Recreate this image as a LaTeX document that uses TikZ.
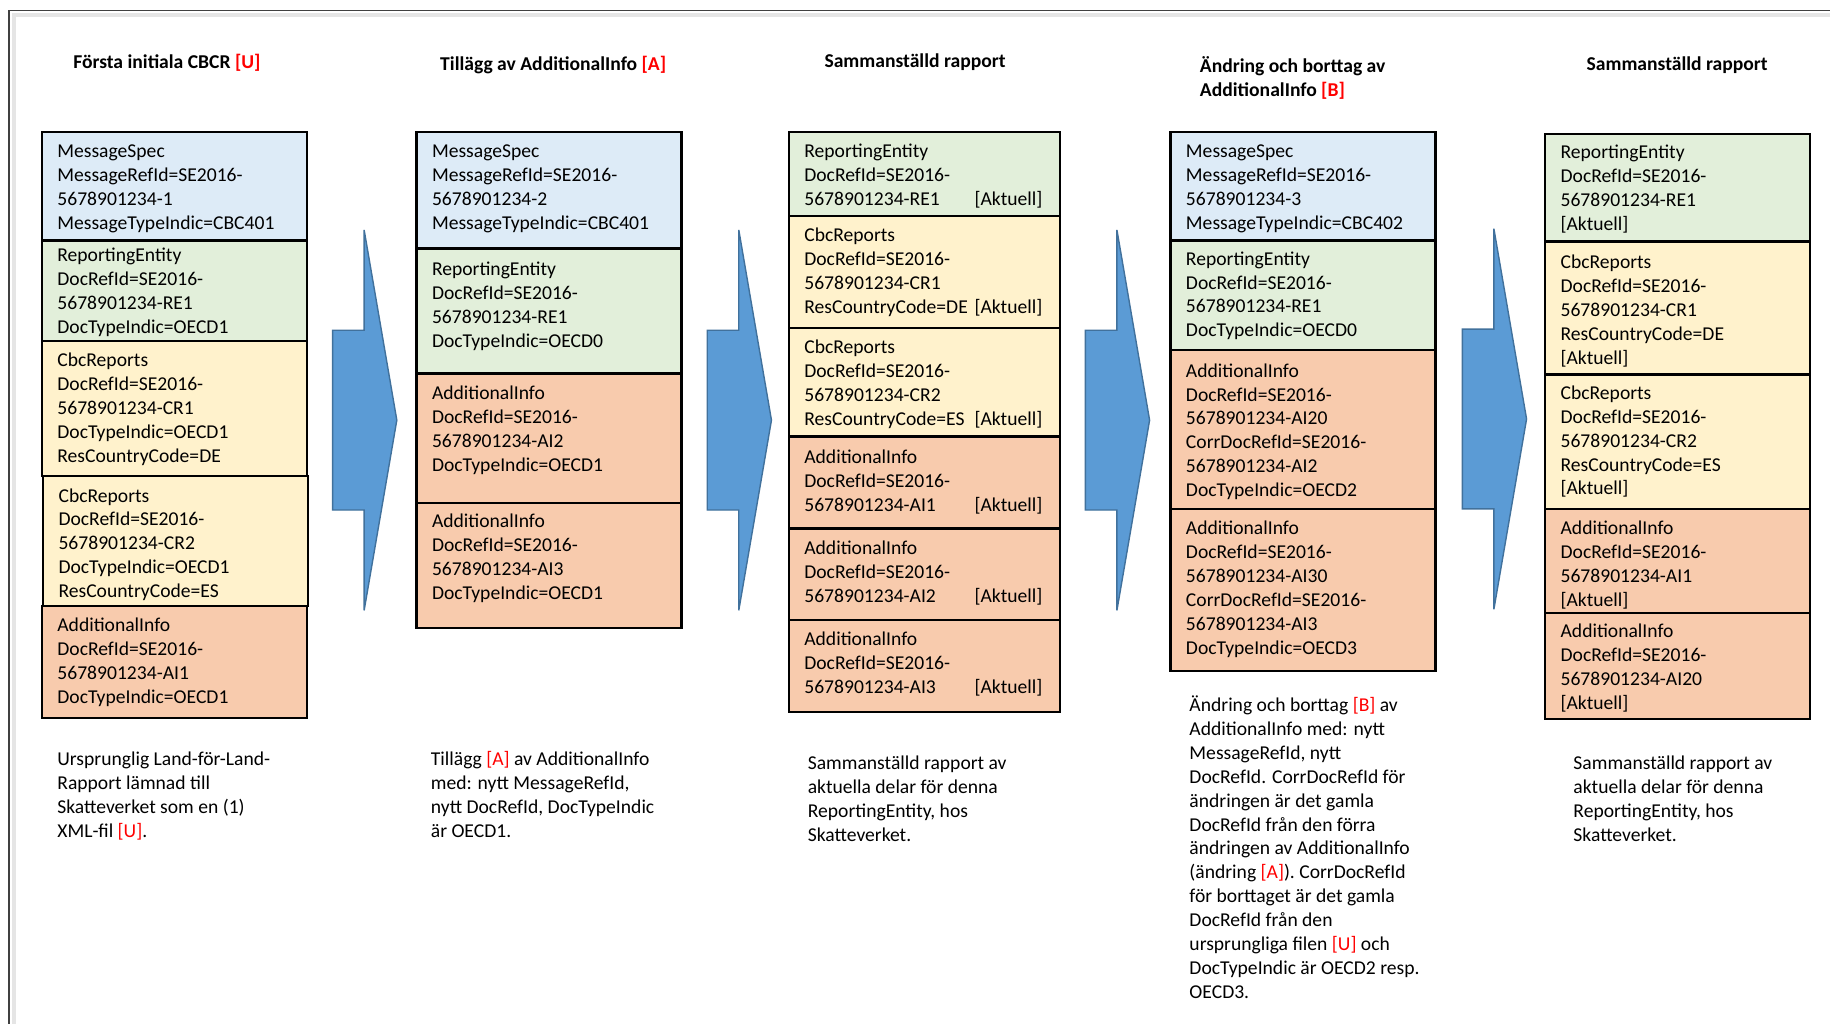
\documentclass[tikz,border=0pt]{standalone}
\usepackage{fontspec}
\setmainfont{Carlito}
\usetikzlibrary{fit}
\definecolor{cms}{HTML}{DDEBF7}
\definecolor{cre}{HTML}{E2EFDA}
\definecolor{ccr}{HTML}{FFF2CC}
\definecolor{cai}{HTML}{F8CBAD}
\definecolor{cred}{HTML}{FF0000}
\definecolor{carrf}{HTML}{5B9BD5}
\definecolor{carrd}{HTML}{41719C}
\newcommand\fl{\rule{0pt}{14pt}}
\newcommand\cbsec[8]{%
  \node[sec, fill=#6, fit={(#2,#3) (#4,#5)}] (#1) {};
  \node[txt] (#1t) at ({#2+13},{#7-12}) {\fl#8};}
\newcommand\akt[1]{\makebox[238pt][l]{#1\hfill[Aktuell]}}
\newcommand\rb[1]{\textcolor{cred}{#1}}
\newcommand\aktl{{[Aktuell]}}
\newcommand\barrow[2]{\filldraw[barr] (#1,{#2-77}) -- ({#1+27},{#2-77}) -- ({#1+27},{#2-163}) -- ({#1+55},#2) -- ({#1+27},{#2+163}) -- ({#1+27},{#2+77}) -- (#1,{#2+77}) -- cycle;}
\begin{document}
\begin{tikzpicture}[x=1.1671pt,y=-1.1671pt,
  sec/.style={draw=black, line width=2.4pt, inner sep=0pt, outer sep=0pt},
  txt/.style={anchor=north west, inner sep=0pt, align=left, font=\fontsize{19.6}{23.9}\selectfont},
  ttl/.style={anchor=base, inner sep=0pt, align=center, font=\fontsize{19.6}{24.5}\selectfont\bfseries},
  barr/.style={fill=carrf, draw=carrd, line width=1.4pt, line join=miter}]
\useasboundingbox (0,0) rectangle (1568,877);
\fill[white] (0,0) rectangle (1568,877);
% frame
\draw[line width=4pt, black!10] (12,877) -- (12,13) -- (1568,13);
\draw[line width=1.8pt, black!75] (8,877) -- (8,9) -- (1568,9);
% titles
\node[ttl] (t1) at (143,59) {Första initiala CBCR \rb{[U]}};
\node[ttl] (t2) at (474,60) {Tillägg av AdditionalInfo \rb{[A]}};
\node[ttl] (t3) at (784,58) {Sammanställd rapport};
\node[ttl, anchor=north west, align=left] (t4) at (1028,48) {\fl Ändring och borttag av\\AdditionalInfo \rb{[B]}};
\node[ttl] (t5) at (1437,60) {Sammanställd rapport};
% column 1
\cbsec{a1}{36}{113}{263}{206}{cms}{135}{MessageSpec\\MessageRefId=SE2016-\\5678901234-1\\MessageTypeIndic=CBC401}
\cbsec{a2}{36}{206}{263}{292}{cre}{224}{ReportingEntity\\DocRefId=SE2016-\\5678901234-RE1\\DocTypeIndic=OECD1}
\cbsec{a3}{36}{292}{263}{408}{ccr}{314}{CbcReports\\DocRefId=SE2016-\\5678901234-CR1\\DocTypeIndic=OECD1\\ResCountryCode=DE}
\cbsec{a4}{37}{408}{264}{519}{ccr}{430}{CbcReports\\DocRefId=SE2016-\\5678901234-CR2\\DocTypeIndic=OECD1\\ResCountryCode=ES}
\cbsec{a5}{36}{519}{263}{615}{cai}{541}{AdditionalInfo\\DocRefId=SE2016-\\5678901234-AI1\\DocTypeIndic=OECD1}
% column 2
\cbsec{b1}{357}{113}{584}{213}{cms}{135}{MessageSpec\\MessageRefId=SE2016-\\5678901234-2\\MessageTypeIndic=CBC401}
\cbsec{b2}{357}{213}{584}{320}{cre}{236}{ReportingEntity\\DocRefId=SE2016-\\5678901234-RE1\\DocTypeIndic=OECD0}
\cbsec{b3}{357}{320}{584}{431}{cai}{342}{AdditionalInfo\\DocRefId=SE2016-\\5678901234-AI2\\DocTypeIndic=OECD1}
\cbsec{b4}{357}{431}{584}{538}{cai}{452}{AdditionalInfo\\DocRefId=SE2016-\\5678901234-AI3\\DocTypeIndic=OECD1}
% column 3
\cbsec{c1}{676}{113}{908}{185}{cre}{135}{ReportingEntity\\DocRefId=SE2016-\\\akt{5678901234-RE1}}
\cbsec{c2}{676}{185}{908}{281}{ccr}{207}{CbcReports\\DocRefId=SE2016-\\5678901234-CR1\\\akt{ResCountryCode=DE}}
\cbsec{c3}{676}{281}{908}{374}{ccr}{303}{CbcReports\\DocRefId=SE2016-\\5678901234-CR2\\\akt{ResCountryCode=ES}}
\cbsec{c4}{676}{374}{908}{453}{cai}{397}{AdditionalInfo\\DocRefId=SE2016-\\\akt{5678901234-AI1}}
\cbsec{c5}{676}{453}{908}{531}{cai}{475}{AdditionalInfo\\DocRefId=SE2016-\\\akt{5678901234-AI2}}
\cbsec{c6}{676}{531}{908}{610}{cai}{553}{AdditionalInfo\\DocRefId=SE2016-\\\akt{5678901234-AI3}}
% column 4
\cbsec{d1}{1003}{113}{1230}{206}{cms}{135}{MessageSpec\\MessageRefId=SE2016-\\5678901234-3\\MessageTypeIndic=CBC402}
\cbsec{d2}{1003}{206}{1230}{300}{cre}{227}{ReportingEntity\\DocRefId=SE2016-\\5678901234-RE1\\DocTypeIndic=OECD0}
\cbsec{d3}{1003}{300}{1230}{436}{cai}{323}{AdditionalInfo\\DocRefId=SE2016-\\5678901234-AI20\\CorrDocRefId=SE2016-\\5678901234-AI2\\DocTypeIndic=OECD2}
\cbsec{d4}{1003}{436}{1230}{575}{cai}{458}{AdditionalInfo\\DocRefId=SE2016-\\5678901234-AI30\\CorrDocRefId=SE2016-\\5678901234-AI3\\DocTypeIndic=OECD3}
% column 5
\cbsec{e1}{1324}{115}{1551}{207}{cre}{136}{ReportingEntity\\DocRefId=SE2016-\\5678901234-RE1\\\aktl}
\cbsec{e2}{1324}{207}{1551}{321}{ccr}{230}{CbcReports\\DocRefId=SE2016-\\5678901234-CR1\\ResCountryCode=DE\\\aktl}
\cbsec{e3}{1324}{321}{1551}{436}{ccr}{342}{CbcReports\\DocRefId=SE2016-\\5678901234-CR2\\ResCountryCode=ES\\\aktl}
\cbsec{e4}{1324}{436}{1551}{525}{cai}{458}{AdditionalInfo\\DocRefId=SE2016-\\5678901234-AI1\\\aktl}
\cbsec{e5}{1324}{525}{1551}{616}{cai}{546}{AdditionalInfo\\DocRefId=SE2016-\\5678901234-AI20\\\aktl}
% arrows
\barrow{285}{360}
\barrow{606}{360}
\barrow{930}{360}
\barrow{1253}{359}
% descriptions
\node[txt] (n1) at (49,644) {\fl Ursprunglig Land-för-Land-\\Rapport lämnad till\\Skatteverket som en (1)\\XML-fil \rb{[U]}.};
\node[txt] (n2) at (369,644) {\fl Tillägg \rb{[A]} av AdditionalInfo\\med: nytt MessageRefId,\\nytt DocRefId, DocTypeIndic\\är OECD1.};
\node[txt] (n3) at (692,647) {\fl Sammanställd rapport av\\aktuella delar för denna\\ReportingEntity, hos\\Skatteverket.};
\node[txt] (n4) at (1019,596) {\fl Ändring och borttag \rb{[B]} av\\AdditionalInfo med: nytt\\MessageRefId, nytt\\DocRefId. CorrDocRefId för\\ändringen är det gamla\\DocRefId från den förra\\ändringen av AdditionalInfo\\(ändring \rb{[A]}). CorrDocRefId\\för borttaget är det gamla\\DocRefId från den\\ursprungliga filen \rb{[U]} och\\DocTypeIndic är OECD2 resp.\\OECD3.};
\node[txt] (n5) at (1348,647) {\fl Sammanställd rapport av\\aktuella delar för denna\\ReportingEntity, hos\\Skatteverket.};
\end{tikzpicture}
\end{document}
